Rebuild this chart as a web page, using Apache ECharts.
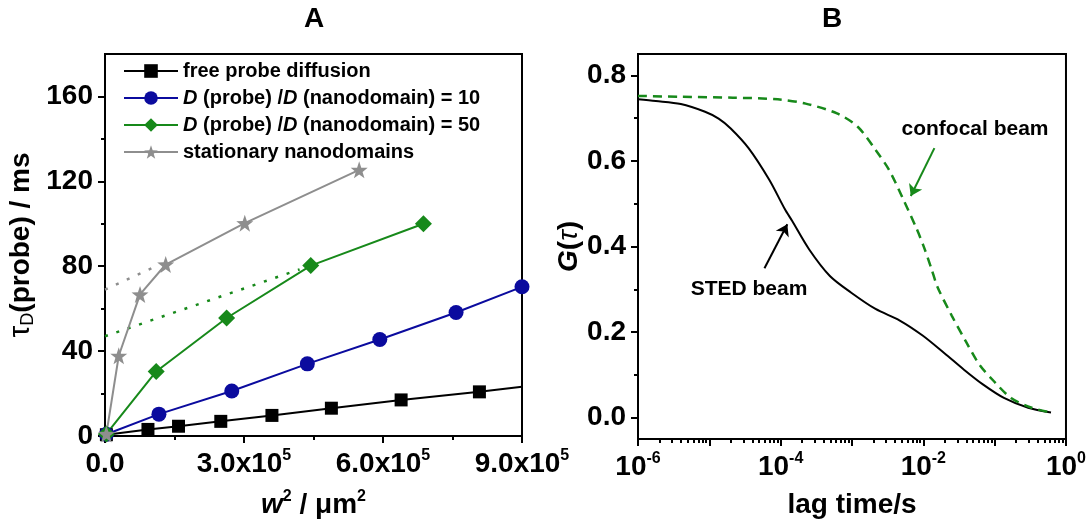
<!DOCTYPE html>
<html>
<head>
<meta charset="utf-8">
<script src="https://cdn.jsdelivr.net/npm/echarts@6/dist/echarts.min.js"></script>
<style>
  html, body { margin: 0; padding: 0; background: #fff; }
  #chart { width: 1089px; height: 524px; }
</style>
</head>
<body>
<div id="chart"></div>
<script>
// panel A: tau_D(probe) against w^2
const freeW2 = [3000, 92700, 158700, 249900, 360300, 488600, 639100, 808100];
const freeTau = [0.6, 3.1, 4.6, 6.9, 9.7, 13.1, 17.0, 20.8];
const freeFitEnd = [900000, 23.2];

const d10W2 = [3000, 116400, 273600, 436700, 593100, 757700, 900000];
const d10Tau = [0.8, 10.3, 21.2, 34.0, 45.5, 58.2, 70.3];

const d50W2 = [3000, 110500, 262500, 444100, 687300];
const d50Tau = [1.0, 30.4, 55.6, 80.3, 100.0];

const statW2 = [3000, 29700, 75600, 131000, 301700, 548600];
const statTau = [1.0, 37.8, 66.7, 80.8, 100.3, 125.4];

// dotted extrapolations back to w^2 = 0
const d50Extrap = [[0, 47], [420000, 78.5]];
const statExtrap = [[0, 69], [110000, 80]];

const aYTicks = [0, 40, 80, 120, 160];
const aYMinor = [20, 60, 100, 140];
const aXTicks = [0, 300000, 600000, 900000];

// panel B: G(tau) against lag time (log10 of seconds)
const stedLogLag = [-6.00, -5.75, -5.40, -5.06, -4.87, -4.70, -4.45, -4.16, -3.94, -3.84, -3.60,
  -3.31, -3.01, -2.67, -2.33, -2.01, -1.70, -1.43, -1.16, -0.87, -0.53, -0.21];
const stedG = [0.744, 0.740, 0.733, 0.715, 0.699, 0.676, 0.630, 0.556, 0.487, 0.460, 0.393,
  0.331, 0.292, 0.254, 0.227, 0.192, 0.150, 0.112, 0.077, 0.046, 0.023, 0.012];

const confLogLag = [-6.00, -5.40, -4.67, -4.04, -3.65, -3.21, -2.92, -2.67, -2.48, -2.28, -2.09,
  -1.99, -1.89, -1.80, -1.60, -1.40, -1.21, -1.01, -0.77, -0.48, -0.21];
const confG = [0.752, 0.750, 0.748, 0.744, 0.734, 0.711, 0.680, 0.626, 0.579, 0.510, 0.440,
  0.398, 0.350, 0.305, 0.238, 0.177, 0.123, 0.085, 0.046, 0.023, 0.012];

const bYTicks = [0, 0.2, 0.4, 0.6, 0.8];
const bYMinor = [0.1, 0.3, 0.5, 0.7];
const bXLabels = [1e-6, 1e-4, 1e-2, 1];
const bXDecades = [1e-6, 1e-5, 1e-4, 1e-3, 1e-2, 1e-1, 1];

// arrows [from, to] in data space
const stedArrow = [[5.93e-5, 0.349], [1.24e-4, 0.452]];
const confArrow = [[1.43e-2, 0.630], [6.67e-3, 0.518]];

const FONT = '"Liberation Sans", Arial, sans-serif';
const black = '#000000';
const blue = '#0b0b9e';
const green = '#17891a';
const gray = '#8e8e8e';
const star = 'path://M12,0.5 L14.9,8.9 L23.8,9.1 L16.7,14.5 L19.3,23 L12,18 L4.7,23 L7.3,14.5 L0.2,9.1 L9.1,8.9 Z';

const zip = (xs, ys) => xs.map((x, i) => [x, ys[i]]);
const pow10 = xs => xs.map(v => Math.pow(10, v));

const tickFont = { fontFamily: FONT, fontSize: 28, fontWeight: 'bold', color: '#000' };
const rich = {
  b: { fontFamily: FONT, fontSize: 28, fontWeight: 'bold', color: '#000', lineHeight: 32 },
  sup: { fontFamily: FONT, fontSize: 16, fontWeight: 'bold', color: '#000', lineHeight: 16, verticalAlign: 'top' },
  sub: { fontFamily: FONT, fontSize: 18, color: '#000', lineHeight: 18, verticalAlign: 'bottom' },
  t: { fontFamily: FONT, fontSize: 30, color: '#000', lineHeight: 32 },
  ti: { fontFamily: FONT, fontSize: 28, fontStyle: 'italic', color: '#000', lineHeight: 32 },
  bi: { fontFamily: FONT, fontSize: 28, fontWeight: 'bold', fontStyle: 'italic', color: '#000', lineHeight: 32 }
};

const axisLine = { show: true, onZero: false, lineStyle: { color: '#000', width: 2 } };
const majorTick = { show: true, length: 7, lineStyle: { color: '#000', width: 2 } };
const minorTick = { show: true, length: 4, lineStyle: { color: '#000', width: 2 } };

const legendNames = {
  'free probe diffusion': '{n|free probe diffusion}',
  'D(probe)/D(nanodomain) = 10': '{i|D}{n| (probe) /}{i|D}{n| (nanodomain) = 10}',
  'D(probe)/D(nanodomain) = 50': '{i|D}{n| (probe) /}{i|D}{n| (nanodomain) = 50}',
  'stationary nanodomains': '{n|stationary nanodomains}'
};

const chart = echarts.init(document.getElementById('chart'));

chart.setOption({
  animation: false,
  backgroundColor: '#fff',
  grid: [
    { left: 105, top: 54, width: 417, height: 388, show: true, borderColor: '#000', borderWidth: 2 },
    { left: 638, top: 54, width: 430, height: 388, show: true, borderColor: '#000', borderWidth: 2 }
  ],
  xAxis: [
    {
      gridIndex: 0, type: 'value', min: 0, max: 900000, interval: 300000,
      axisLine, axisTick: majorTick, splitLine: { show: false },
      minorTick: { show: true, splitNumber: 2, length: 4, lineStyle: { color: '#000', width: 2 } },
      axisLabel: {
        margin: 12, customValues: aXTicks, rich,
        formatter: v => v === 0 ? '{b|0.0}' : '{b|' + (v / 1e5).toFixed(1) + 'x10}{sup|5}'
      },
      name: '{bi|w}{sup|2}{b| / μm}{sup|2}', nameLocation: 'middle', nameGap: 53,
      nameTextStyle: { rich }
    },
    {
      gridIndex: 1, type: 'log', logBase: 10, min: 1e-6, max: 1,
      axisLine, splitLine: { show: false },
      axisTick: Object.assign({ customValues: bXDecades }, majorTick),
      axisLabel: {
        margin: 12, customValues: bXLabels, rich,
        formatter: v => '{b|10}{sup|' + Math.round(Math.log10(v)) + '}'
      },
      name: '{b|lag time/s}', nameLocation: 'middle', nameGap: 50,
      nameTextStyle: { rich }
    },
    {
      // minor ticks 2..9 of each decade
      gridIndex: 1, type: 'log', logBase: 10, min: 1e-6, max: 1, position: 'bottom',
      axisLine: { show: false, onZero: false }, axisLabel: { show: false }, splitLine: { show: false },
      axisTick: Object.assign({
        customValues: bXDecades.slice(0, -1).flatMap(d => [2, 3, 4, 5, 6, 7, 8, 9].map(k => k * d))
      }, minorTick)
    }
  ],
  yAxis: [
    {
      gridIndex: 0, type: 'value', min: 0, max: 180,
      axisLine, splitLine: { show: false },
      axisTick: Object.assign({ customValues: aYTicks }, majorTick),
      axisLabel: Object.assign({ margin: 12, customValues: aYTicks }, tickFont),
      name: '{t|τ}{sub|D}{b|(probe) / ms}', nameLocation: 'middle', nameGap: 68,
      nameTextStyle: { rich }
    },
    {
      gridIndex: 0, type: 'value', min: 0, max: 180, position: 'left',
      axisLine: { show: false, onZero: false }, axisLabel: { show: false }, splitLine: { show: false },
      axisTick: Object.assign({ customValues: aYMinor }, minorTick)
    },
    {
      gridIndex: 1, type: 'value', min: -0.05, max: 0.85,
      axisLine, splitLine: { show: false },
      axisTick: Object.assign({ customValues: bYTicks }, majorTick),
      axisLabel: Object.assign({ margin: 12, customValues: bYTicks, formatter: v => v.toFixed(1) }, tickFont),
      name: '{bi|G}{b|(}{ti|τ}{b|)}', nameLocation: 'middle', nameGap: 53,
      nameTextStyle: { rich }
    },
    {
      gridIndex: 1, type: 'value', min: -0.05, max: 0.85, position: 'left',
      axisLine: { show: false, onZero: false }, axisLabel: { show: false }, splitLine: { show: false },
      axisTick: Object.assign({ customValues: bYMinor }, minorTick)
    }
  ],
  legend: {
    orient: 'vertical', left: 123, top: 61, padding: 0, itemGap: 7,
    itemWidth: 54, itemHeight: 17, selectedMode: false,
    data: Object.keys(legendNames),
    formatter: name => legendNames[name],
    textStyle: {
      fontFamily: FONT, fontSize: 20, fontWeight: 'bold', color: '#000', lineHeight: 20,
      rich: {
        n: { fontFamily: FONT, fontSize: 20, fontWeight: 'bold', color: '#000', lineHeight: 20 },
        i: { fontFamily: FONT, fontSize: 20, fontWeight: 'bold', fontStyle: 'italic', color: '#000', lineHeight: 20 }
      }
    }
  },
  graphic: [
    { type: 'text', x: 314, y: 19, style: { text: 'A', font: 'bold 28px ' + FONT, fill: '#000', align: 'center', verticalAlign: 'middle' } },
    { type: 'text', x: 832, y: 19, style: { text: 'B', font: 'bold 28px ' + FONT, fill: '#000', align: 'center', verticalAlign: 'middle' } },
    { type: 'text', x: 975, y: 129, style: { text: 'confocal beam', font: 'bold 21px ' + FONT, fill: '#000', align: 'center', verticalAlign: 'middle' } },
    { type: 'text', x: 749, y: 289, style: { text: 'STED beam', font: 'bold 21px ' + FONT, fill: '#000', align: 'center', verticalAlign: 'middle' } }
  ],
  series: [
    {
      name: 'free probe diffusion', type: 'line', xAxisIndex: 0, yAxisIndex: 0,
      symbol: 'rect', symbolSize: 13, color: black,
      lineStyle: { color: black, width: 2 },
      data: zip(freeW2, freeTau).concat([{ value: freeFitEnd, symbol: 'none' }])
    },
    {
      name: 'D(probe)/D(nanodomain) = 10', type: 'line', xAxisIndex: 0, yAxisIndex: 0,
      symbol: 'circle', symbolSize: 15, color: blue,
      lineStyle: { color: blue, width: 2 },
      data: zip(d10W2, d10Tau)
    },
    {
      name: 'D(probe)/D(nanodomain) = 50', type: 'line', xAxisIndex: 0, yAxisIndex: 0,
      symbol: 'diamond', symbolSize: 17, color: green,
      lineStyle: { color: green, width: 2 },
      data: zip(d50W2, d50Tau)
    },
    {
      name: 'stationary nanodomains', type: 'line', xAxisIndex: 0, yAxisIndex: 0,
      symbol: star, symbolSize: 17, color: gray,
      lineStyle: { color: gray, width: 2 },
      data: zip(statW2, statTau)
    },
    {
      name: 'd50 extrapolation', type: 'line', xAxisIndex: 0, yAxisIndex: 0, symbol: 'none', z: 1,
      lineStyle: { color: green, width: 2.5, type: [3, 9] }, data: d50Extrap
    },
    {
      name: 'stationary extrapolation', type: 'line', xAxisIndex: 0, yAxisIndex: 0, symbol: 'none', z: 1,
      lineStyle: { color: gray, width: 2.5, type: [3, 9] }, data: statExtrap
    },
    {
      name: 'STED beam', type: 'line', xAxisIndex: 1, yAxisIndex: 2,
      symbol: 'none', smooth: 0.3,
      lineStyle: { color: black, width: 2 },
      data: zip(pow10(stedLogLag), stedG),
      markLine: {
        silent: true, symbol: ['none', 'arrow'], symbolSize: 11,
        label: { show: false }, lineStyle: { color: black, width: 2, type: 'solid' },
        data: [[{ coord: stedArrow[0] }, { coord: stedArrow[1] }]]
      }
    },
    {
      name: 'confocal beam', type: 'line', xAxisIndex: 1, yAxisIndex: 2,
      symbol: 'none', smooth: 0.3,
      lineStyle: { color: green, width: 2.5, type: [9, 6] },
      data: zip(pow10(confLogLag), confG),
      markLine: {
        silent: true, symbol: ['none', 'arrow'], symbolSize: 11,
        label: { show: false }, lineStyle: { color: green, width: 2, type: 'solid' },
        data: [[{ coord: confArrow[0] }, { coord: confArrow[1] }]]
      }
    }
  ]
});
</script>
</body>
</html>
